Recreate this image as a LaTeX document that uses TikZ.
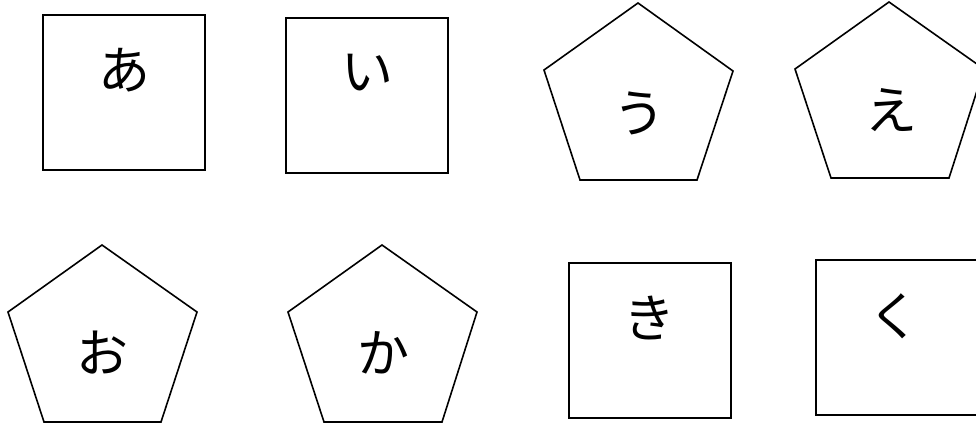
\documentclass[tikz,border=0pt]{standalone}
\usepackage{fontspec}
\newfontfamily\cjk{Noto Sans CJK JP}
\begin{document}
\begin{tikzpicture}[x=1pt,y=-1pt,
  shapeline/.style={draw=black,line width=1.6pt,line join=miter},
  kana/.style={font=\cjk\fontsize{52}{52}\selectfont,inner sep=0pt,anchor=center}]
\useasboundingbox (0,0) rectangle (976,426);
% squares
\draw[shapeline] (43,15) rectangle (205,170);
\draw[shapeline] (286,18) rectangle (448,173);
\draw[shapeline] (569,263) rectangle (731,418);
\draw[shapeline] (816,260) rectangle (978,415);
% pentagons
\draw[shapeline] (638,3) -- (733,71) -- (697,180) -- (580,180) -- (544,70) -- cycle;
\draw[shapeline] (889,2) -- (984,69) -- (949,178) -- (831,178) -- (795,69) -- cycle;
\draw[shapeline] (102,245) -- (197,312) -- (161,422) -- (44,422) -- (8,312) -- cycle;
\draw[shapeline] (382,245) -- (477,312) -- (442,422) -- (324,422) -- (288,312) -- cycle;
% texts
\node[kana] (a) at (124,70) {あ};
\node[kana] (i) at (367,73) {い};
\node[kana] (u) at (639,113) {う};
\node[kana] (e) at (891,110) {え};
\node[kana] (o) at (102,353) {お};
\node[kana] (ka) at (383,353) {か};
\node[kana] (ki) at (649,318) {き};
\node[kana] (ku) at (894,316) {く};
\end{tikzpicture}
\end{document}
